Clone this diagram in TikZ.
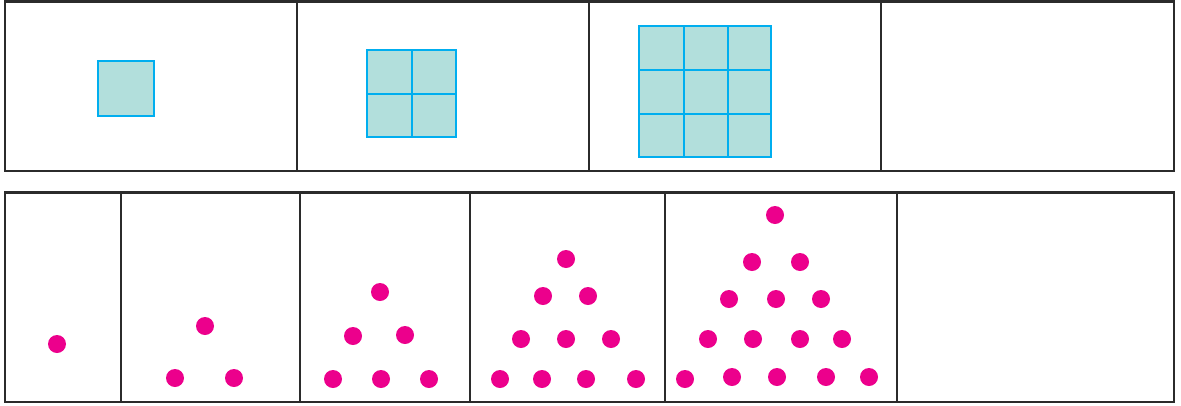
\documentclass[tikz,border=0pt]{standalone}
\definecolor{frame}{HTML}{2B2B2B}
\definecolor{tealfill}{HTML}{B2DFDC}
\definecolor{cyanline}{HTML}{00AEEF}
\definecolor{dotpink}{HTML}{EC008C}
\begin{document}
\begin{tikzpicture}[x=1pt,y=-1pt,
  panel/.style={draw=frame,line width=2.4pt},
  tile/.style={fill=tealfill,draw=cyanline,line width=2pt},
  grid line/.style={draw=cyanline,line width=2pt},
  dot/.style={fill=dotpink}]
\useasboundingbox (0,0) rectangle (1181,405);
% top strip
\draw[panel] (5,1.5) rectangle (1174,171);
\foreach \x in {297,589,881} \draw[panel] (\x,1.5) -- (\x,171);
% squares
\draw[tile] (98,61) rectangle (154,116);
\draw[tile] (367,50) rectangle (456,137);
\draw[grid line] (411.5,50) -- (411.5,137) (367,93.5) -- (456,93.5);
\draw[tile] (639,26) rectangle (771,157);
\draw[grid line] (684,26) -- (684,157) (728,26) -- (728,157)
  (639,70) -- (771,70) (639,114) -- (771,114);
% bottom strip
\draw[panel] (5,192.5) rectangle (1174,402);
\foreach \x in {121,300,470,665,897} \draw[panel] (\x,192.5) -- (\x,402);
% dots
\foreach \p in {(57,344),
  (205,326),(175,378),(234,378),
  (380,292),(353,336),(405,335),(333,379),(381,379),(429,379),
  (566,259),(543,296),(588,296),(521,339),(566,339),(611,339),(500,379),(542,379),(586,379),(636,379),
  (775,215),(752,262),(800,262),(729,299),(776,299),(821,299),(708,339),(753,339),(800,339),(842,339),(685,379),(732,377),(777,377),(826,377),(869,377)}
  \fill[dot] \p circle (9);
\end{tikzpicture}
\end{document}
